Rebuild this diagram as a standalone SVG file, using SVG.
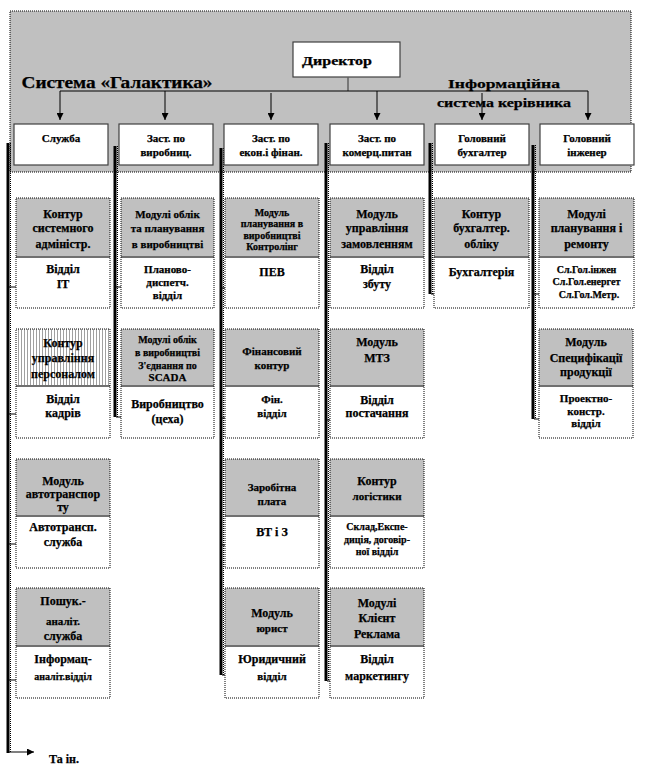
<svg xmlns="http://www.w3.org/2000/svg" width="655" height="779" viewBox="0 0 655 779">
<defs>
<style>
text{font-family:"Liberation Serif","Times New Roman",serif;font-weight:bold;fill:#000;stroke:#000;stroke-width:0.25;text-anchor:middle}
.t12{font-size:12px}.t11{font-size:11px}.t10{font-size:10px}
.head{fill:#fff;stroke:#404040;stroke-width:1.2}
.mh{fill:#c0c0c0}
.ml{fill:#fff}
.sep{stroke:#707070;stroke-width:2}
.mb{fill:none;stroke:#000;stroke-width:1;stroke-dasharray:1 1}
.vl{stroke:#000;stroke-width:3}
.vd{stroke:#000;stroke-width:1;stroke-dasharray:1 1}
.ar{stroke:#000;stroke-width:1;fill:none}
</style>
<marker id="ah" viewBox="0 0 10 10" refX="10" refY="5" markerWidth="9" markerHeight="7" markerUnits="userSpaceOnUse" orient="auto"><path d="M0,0 L10,5 L0,10 z" fill="#000"/></marker>
<pattern id="stripes" width="3" height="4" patternUnits="userSpaceOnUse"><rect width="3" height="4" fill="#fff"/><rect width="1" height="4" fill="#a0a0a0"/></pattern>
</defs>

<!-- background panel -->
<rect x="10" y="11" width="621" height="161" fill="#c0c0c0" stroke="#000" stroke-width="1" stroke-dasharray="1 1"/>
<text x="117" y="88" style="font-size:16px" textLength="191" lengthAdjust="spacingAndGlyphs">Система «Галактика»</text>
<text x="504" y="88" style="font-size:13px" textLength="112" lengthAdjust="spacingAndGlyphs">Інформаційна</text>
<text x="504" y="107" style="font-size:13px" textLength="134" lengthAdjust="spacingAndGlyphs">система керівника</text>

<g id="director">
<rect class="head" x="293" y="42" width="107" height="35" stroke="#606060"/>
<text class="t12" x="302" y="65" style="text-anchor:start" textLength="70" lengthAdjust="spacingAndGlyphs">Директор</text>
</g>

<!-- connectors -->
<g id="connectors">
<line x1="348" y1="77" x2="348" y2="91" stroke="#606060" stroke-width="1.5"/>
<line class="ar" x1="60" y1="91" x2="588" y2="91"/>
<line class="ar" x1="60" y1="91" x2="60" y2="120" marker-end="url(#ah)"/>
<line class="ar" x1="165" y1="91" x2="165" y2="120" marker-end="url(#ah)"/>
<line class="ar" x1="271" y1="93" x2="271" y2="120" marker-end="url(#ah)"/>
<line class="ar" x1="377" y1="91" x2="377" y2="120" marker-end="url(#ah)"/>
<line class="ar" x1="482" y1="93" x2="482" y2="120" marker-end="url(#ah)"/>
<line class="ar" x1="588" y1="91" x2="588" y2="120" marker-end="url(#ah)"/>

<!-- vertical trunks -->
<line class="vl" x1="8" y1="143" x2="8" y2="753"/>
<line class="vd" x1="10.5" y1="143" x2="10.5" y2="753"/>
<line class="vl" x1="115" y1="146" x2="115" y2="417"/>
<line class="vd" x1="117.5" y1="146" x2="117.5" y2="417"/>
<line class="vl" x1="221" y1="148" x2="221" y2="675"/>
<line class="vd" x1="223.5" y1="148" x2="223.5" y2="675"/>
<line class="vl" x1="326" y1="143" x2="326" y2="681"/>
<line class="vd" x1="328.5" y1="143" x2="328.5" y2="681"/>
<line class="vl" x1="430" y1="143" x2="430" y2="294"/>
<line class="vd" x1="432.5" y1="143" x2="432.5" y2="294"/>
<line class="vl" x1="533" y1="145" x2="533" y2="419"/>
<line class="vd" x1="535.5" y1="145" x2="535.5" y2="419"/>

<!-- branch arrows -->
<line class="ar" x1="9" y1="287" x2="33" y2="287" marker-end="url(#ah)"/>
<line class="ar" x1="116" y1="287" x2="138" y2="287" marker-end="url(#ah)"/>
<line class="ar" x1="222" y1="288" x2="245" y2="288" marker-end="url(#ah)"/>
<line class="ar" x1="327" y1="291" x2="351" y2="291" marker-end="url(#ah)"/>
<line class="ar" x1="431" y1="294" x2="456" y2="294" marker-end="url(#ah)"/>
<line class="ar" x1="534" y1="294" x2="549" y2="294" marker-end="url(#ah)"/>

<line class="ar" x1="9" y1="414" x2="33" y2="414" marker-end="url(#ah)"/>
<line class="ar" x1="116" y1="417" x2="138" y2="417" marker-end="url(#ah)"/>
<line class="ar" x1="222" y1="418" x2="245" y2="418" marker-end="url(#ah)"/>
<line class="ar" x1="327" y1="420" x2="345" y2="420" marker-end="url(#ah)"/>
<line class="ar" x1="534" y1="419" x2="552" y2="419" marker-end="url(#ah)"/>

<line class="ar" x1="9" y1="544" x2="33" y2="544" marker-end="url(#ah)"/>
<line class="ar" x1="222" y1="545" x2="243" y2="545" marker-end="url(#ah)"/>
<line class="ar" x1="327" y1="548" x2="342" y2="548" marker-end="url(#ah)"/>

<line class="ar" x1="9" y1="680" x2="33" y2="680" marker-end="url(#ah)"/>
<line class="ar" x1="222" y1="675" x2="243" y2="675" marker-end="url(#ah)"/>
<line class="ar" x1="327" y1="681" x2="343" y2="681" marker-end="url(#ah)"/>

<line class="ar" x1="9" y1="752" x2="34" y2="752" marker-end="url(#ah)"/>
</g>

<!-- head boxes -->
<g id="h1"><rect class="head" x="14" y="124" width="94" height="41"/><text class="t11" x="61" y="142">Служба</text></g>
<g id="h2"><rect class="head" x="119" y="124" width="94" height="41"/><text class="t11" x="166" y="142">Заст. по</text><text class="t11" x="166" y="156">виробниц.</text></g>
<g id="h3"><rect class="head" x="224" y="124" width="94" height="41"/><text class="t11" x="271" y="142">Заст. по</text><text class="t11" x="271" y="156">екон.і фінан.</text></g>
<g id="h4"><rect class="head" x="330" y="124" width="94" height="41"/><text class="t11" x="377" y="142">Заст. по</text><text class="t11" x="377" y="156">комерц.питан</text></g>
<g id="h5"><rect class="head" x="435" y="124" width="94" height="41"/><text class="t11" x="482" y="142">Головний</text><text class="t11" x="482" y="156">бухгалтер</text></g>
<g id="h6"><rect class="head" x="540" y="124" width="94" height="41"/><text class="t11" x="587" y="142">Головний</text><text class="t11" x="587" y="156">інженер</text></g>

<!-- row 1 modules -->
<g id="m11"><rect class="mh" x="16" y="198" width="94" height="59"/><rect class="ml" x="16" y="257" width="94" height="51"/><line class="sep" x1="16" y1="257" x2="110" y2="257"/><rect class="mb" x="16" y="198" width="94" height="110"/>
<text class="t12" x="63" y="218">Контур</text><text class="t12" x="63" y="232">системного</text><text class="t12" x="63" y="248">адміністр.</text>
<text class="t12" x="63" y="273">Відділ</text><text class="t12" x="63" y="288">ІТ</text></g>
<g id="m12"><rect class="mh" x="121" y="198" width="93" height="59"/><rect class="ml" x="121" y="257" width="93" height="51"/><line class="sep" x1="121" y1="257" x2="214" y2="257"/><rect class="mb" x="121" y="198" width="93" height="110"/>
<text class="t11" x="167.5" y="218">Модулі облік</text><text class="t11" x="167.5" y="232">та планування</text><text class="t11" x="167.5" y="248">в виробництві</text>
<text class="t11" x="167.5" y="273">Планово-</text><text class="t11" x="167.5" y="286">диспетч.</text><text class="t11" x="167.5" y="299">відділ</text></g>
<g id="m13"><rect class="mh" x="225" y="198" width="94" height="59"/><rect class="ml" x="225" y="257" width="94" height="51"/><line class="sep" x1="225" y1="257" x2="319" y2="257"/><rect class="mb" x="225" y="198" width="94" height="110"/>
<text class="t10" x="272" y="216">Модуль</text><text class="t10" x="272" y="227">планування в</text><text class="t10" x="272" y="239">виробництві</text><text class="t10" x="272" y="250">Контролінг</text>
<text class="t12" x="272" y="276">ПЕВ</text></g>
<g id="m14"><rect class="mh" x="330" y="198" width="94" height="59"/><rect class="ml" x="330" y="257" width="94" height="51"/><line class="sep" x1="330" y1="257" x2="424" y2="257"/><rect class="mb" x="330" y="198" width="94" height="110"/>
<text class="t12" x="377" y="218">Модуль</text><text class="t12" x="377" y="232">управління</text><text class="t12" x="377" y="248">замовленням</text>
<text class="t12" x="377" y="273">Відділ</text><text class="t12" x="377" y="288">збуту</text></g>
<g id="m15"><rect class="mh" x="434" y="198" width="95" height="59"/><rect class="ml" x="434" y="257" width="95" height="51"/><line class="sep" x1="434" y1="257" x2="529" y2="257"/><rect class="mb" x="434" y="198" width="95" height="110"/>
<text class="t12" x="481.5" y="218">Контур</text><text class="t12" x="481.5" y="232">бухгалтер.</text><text class="t12" x="481.5" y="248">обліку</text>
<text class="t12" x="481.5" y="276">Бухгалтерія</text></g>
<g id="m16"><rect class="mh" x="539" y="198" width="95" height="59"/><rect class="ml" x="539" y="257" width="95" height="51"/><line class="sep" x1="539" y1="257" x2="634" y2="257"/><rect class="mb" x="539" y="198" width="95" height="110"/>
<text class="t12" x="586.5" y="218">Модулі</text><text class="t12" x="586.5" y="232">планування і</text><text class="t12" x="586.5" y="248">ремонту</text>
<text class="t10" x="586.5" y="273">Сл.Гол.інжен</text><text class="t10" x="586.5" y="285">Сл.Гол.енергет</text><text class="t10" x="589" y="298">Сл.Гол.Метр.</text></g>

<!-- row 2 modules -->
<g id="m21"><rect x="16" y="329" width="94" height="57" fill="url(#stripes)"/><rect class="ml" x="16" y="386" width="94" height="52"/><line class="sep" x1="16" y1="386" x2="110" y2="386"/><rect class="mb" x="16" y="329" width="94" height="109"/>
<text class="t12" x="63" y="347">Контур</text><text class="t12" x="63" y="362">управління</text><text class="t12" x="63" y="378">персоналом</text>
<text class="t12" x="63" y="403">Відділ</text><text class="t12" x="63" y="417">кадрів</text></g>
<g id="m22"><rect class="mh" x="121" y="329" width="93" height="57"/><rect class="ml" x="121" y="386" width="93" height="52"/><line class="sep" x1="121" y1="386" x2="214" y2="386"/><rect class="mb" x="121" y="329" width="93" height="109"/>
<text class="t10" x="167.5" y="343">Модулі облік</text><text class="t10" x="167.5" y="356">в виробництві</text><text class="t10" x="167.5" y="369">З'єднання по</text><text class="t11" x="167.5" y="381">SCADA</text>
<text class="t12" x="167.5" y="408">Виробництво</text><text class="t12" x="167.5" y="423">(цеха)</text></g>
<g id="m23"><rect class="mh" x="225" y="329" width="94" height="57"/><rect class="ml" x="225" y="386" width="94" height="52"/><line class="sep" x1="225" y1="386" x2="319" y2="386"/><rect class="mb" x="225" y="329" width="94" height="109"/>
<text class="t11" x="272" y="355">Фінансовий</text><text class="t11" x="272" y="369">контур</text>
<text class="t11" x="272" y="403">Фін.</text><text class="t11" x="272" y="417">відділ</text></g>
<g id="m24"><rect class="mh" x="330" y="329" width="94" height="57"/><rect class="ml" x="330" y="386" width="94" height="52"/><line class="sep" x1="330" y1="386" x2="424" y2="386"/><rect class="mb" x="330" y="329" width="94" height="109"/>
<text class="t12" x="377" y="346">Модуль</text><text class="t12" x="377" y="362">МТЗ</text>
<text class="t12" x="377" y="404">Відділ</text><text class="t12" x="377" y="417">постачання</text></g>
<g id="m26"><rect class="mh" x="539" y="329" width="94" height="57"/><rect class="ml" x="539" y="386" width="94" height="52"/><line class="sep" x1="539" y1="386" x2="633" y2="386"/><rect class="mb" x="539" y="329" width="94" height="109"/>
<text class="t12" x="586" y="346">Модуль</text><text class="t12" x="586" y="362">Специфікації</text><text class="t12" x="586" y="376">продукції</text>
<text class="t11" x="586" y="402">Проектно-</text><text class="t11" x="586" y="415">констр.</text><text class="t11" x="586" y="427">відділ</text></g>

<!-- row 3 modules -->
<g id="m31"><rect class="mh" x="16" y="459" width="94" height="57"/><rect class="ml" x="16" y="516" width="94" height="52"/><line class="sep" x1="16" y1="516" x2="110" y2="516"/><rect class="mb" x="16" y="459" width="94" height="109"/>
<text class="t12" x="63" y="485">Модуль</text><text class="t12" x="63" y="498">автотранспор</text><text class="t12" x="63" y="511">ту</text>
<text class="t12" x="63" y="531">Автотрансп.</text><text class="t12" x="63" y="546">служба</text></g>
<g id="m33"><rect class="mh" x="225" y="459" width="94" height="57"/><rect class="ml" x="225" y="516" width="94" height="52"/><line class="sep" x1="225" y1="516" x2="319" y2="516"/><rect class="mb" x="225" y="459" width="94" height="109"/>
<text class="t11" x="272" y="491">Заробітна</text><text class="t11" x="272" y="505">плата</text>
<text class="t12" x="272" y="536">ВТ і З</text></g>
<g id="m34"><rect class="mh" x="330" y="459" width="94" height="57"/><rect class="ml" x="330" y="516" width="94" height="52"/><line class="sep" x1="330" y1="516" x2="424" y2="516"/><rect class="mb" x="330" y="459" width="94" height="109"/>
<text class="t12" x="377" y="485">Контур</text><text class="t11" x="377" y="500">логістики</text>
<text class="t10" x="377" y="530">Склад,Експе-</text><text class="t10" x="377" y="543">диція, договір-</text><text class="t10" x="377" y="555">ної відділ</text></g>

<!-- row 4 modules -->
<g id="m41"><rect class="mh" x="16" y="588" width="94" height="58"/><rect class="ml" x="16" y="646" width="94" height="52"/><line class="sep" x1="16" y1="646" x2="110" y2="646"/><rect class="mb" x="16" y="588" width="94" height="110"/>
<text class="t12" x="63" y="605">Пошук.-</text><text class="t11" x="63" y="625">аналіт.</text><text class="t12" x="63" y="640">служба</text>
<text class="t12" x="63" y="663">Інформац-</text><text class="t10" x="63" y="680">аналіт.відділ</text></g>
<g id="m43"><rect class="mh" x="225" y="588" width="94" height="58"/><rect class="ml" x="225" y="646" width="94" height="52"/><line class="sep" x1="225" y1="646" x2="319" y2="646"/><rect class="mb" x="225" y="588" width="94" height="110"/>
<text class="t12" x="272" y="617">Модуль</text><text class="t11" x="272" y="632">юрист</text>
<text class="t12" x="272" y="663">Юридичний</text><text class="t11" x="272" y="680">відділ</text></g>
<g id="m44"><rect class="mh" x="330" y="588" width="94" height="58"/><rect class="ml" x="330" y="646" width="94" height="52"/><line class="sep" x1="330" y1="646" x2="424" y2="646"/><rect class="mb" x="330" y="588" width="94" height="110"/>
<text class="t12" x="377" y="607">Модулі</text><text class="t12" x="377" y="622">Клієнт</text><text class="t12" x="377" y="638">Реклама</text>
<text class="t12" x="377" y="663">Відділ</text><text class="t12" x="377" y="680">маркетингу</text></g>

<g id="other"><text class="t12" x="64" y="763">Та ін.</text></g>
</svg>
